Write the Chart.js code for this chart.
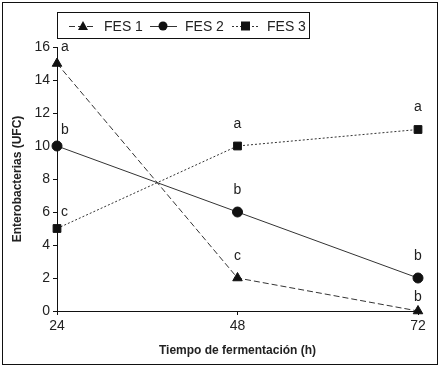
<!DOCTYPE html>
<html lang="es">
<head>
  <meta charset="UTF-8">
  <title>Enterobacterias</title>
  <style>
    body { margin: 0; background: #fff; }
    #wrap { width: 440px; height: 367px; position: relative; }
  </style>
</head>
<body>
  <div id="wrap">
    <canvas id="grafico" width="440" height="367"></canvas>
  </div>

  <script src="https://cdn.jsdelivr.net/npm/chart.js"></script>
  <script>
    // Datos
    const tiempos = [24, 48, 72];
    const series = ['FES 1', 'FES 2', 'FES 3'];
    const fes1 = [15, 2, 0];
    const fes2 = [10, 6, 2];
    const fes3 = [5, 10, 11];
    const letras1 = ['a', 'c', 'b'];
    const letras2 = ['b', 'b', 'b'];
    const letras3 = ['c', 'a', 'a'];

    const fuente = "'Liberation Sans Narrow', 'Liberation Sans', Arial, sans-serif";
    const tinta = '#222';

    const estilos = [
      { dash: [6, 3], punto: 'triangle', radio: 5.5, letras: letras1 },
      { dash: [], punto: 'circle', radio: 5, letras: letras2 },
      { dash: [2, 2], punto: 'rect', radio: 5.5, letras: letras3 }
    ];
    const valores = [fes1, fes2, fes3];

    const datasets = valores.map((vals, i) => ({
      label: series[i],
      data: vals.map((v, j) => ({ x: tiempos[j], y: v })),
      borderColor: '#333',
      borderWidth: 1,
      borderDash: estilos[i].dash,
      pointStyle: estilos[i].punto,
      pointRadius: estilos[i].radio,
      pointBackgroundColor: '#111',
      pointBorderColor: '#111',
      pointBorderWidth: 1,
      tension: 0,
      clip: false
    }));

    // Marco, leyenda y letras de significancia
    const extras = {
      id: 'extras',
      afterDraw(chart) {
        const ctx = chart.ctx;
        const xs = chart.scales.x, ys = chart.scales.y;
        ctx.save();

        // marco exterior
        ctx.strokeStyle = '#111';
        ctx.lineWidth = 1;
        ctx.strokeRect(2.5, 2.5, 435, 362);

        // leyenda
        ctx.strokeRect(57.5, 12.5, 252, 26);
        const posX = [69, 150, 232];
        ctx.font = '14px ' + fuente;
        ctx.textBaseline = 'middle';
        ctx.textAlign = 'left';
        series.forEach((nombre, i) => {
          const x0 = posX[i], y0 = 26;
          ctx.strokeStyle = '#333';
          ctx.setLineDash(estilos[i].dash);
          ctx.beginPath();
          ctx.moveTo(x0, y0 + 0.5);
          ctx.lineTo(x0 + 27, y0 + 0.5);
          ctx.stroke();
          ctx.setLineDash([]);
          ctx.fillStyle = '#111';
          const cx = x0 + 14;
          if (estilos[i].punto === 'triangle') {
            ctx.beginPath();
            ctx.moveTo(cx, y0 - 5);
            ctx.lineTo(cx + 5, y0 + 4);
            ctx.lineTo(cx - 5, y0 + 4);
            ctx.closePath();
            ctx.fill();
          } else if (estilos[i].punto === 'circle') {
            ctx.beginPath();
            ctx.arc(cx - 1, y0, 4.5, 0, Math.PI * 2);
            ctx.fill();
          } else {
            ctx.fillRect(cx - 5, y0 - 4.5, 9, 9);
          }
          ctx.fillStyle = tinta;
          ctx.fillText(nombre, x0 + 35, y0 + 1);
        });

        // letras
        ctx.font = '14px ' + fuente;
        valores.forEach((vals, i) => {
          vals.forEach((v, j) => {
            const px = xs.getPixelForValue(tiempos[j]);
            const py = ys.getPixelForValue(v);
            ctx.fillStyle = tinta;
            if (j === 0) {
              ctx.textAlign = 'left';
              ctx.fillText(estilos[i].letras[j], px + 4, py - 16);
            } else {
              ctx.textAlign = 'center';
              ctx.fillText(estilos[i].letras[j], px, py - (v === 0 ? 14 : 22));
            }
          });
        });
        ctx.restore();
      }
    };

    new Chart(document.getElementById('grafico'), {
      type: 'line',
      data: { datasets },
      options: {
        responsive: false,
        animation: false,
        layout: { padding: { top: 47, right: 22, left: 0, bottom: 0 } },
        plugins: { legend: { display: false }, tooltip: { enabled: false } },
        scales: {
          x: {
            type: 'linear',
            min: 24, max: 72,
            afterBuildTicks: (s) => { s.ticks = tiempos.map(v => ({ value: v })); },
            afterFit: (s) => { s.height = 56; },
            grid: { drawOnChartArea: false, drawTicks: true, tickLength: 4, color: '#111' },
            border: { color: '#111', width: 1 },
            ticks: { color: tinta, font: { family: fuente, size: 14 }, padding: 3, maxRotation: 0 },
            title: {
              display: true, text: 'Tiempo de fermentación (h)', color: tinta,
              font: { family: fuente, size: 12, weight: 'bold' }, padding: { top: 2, bottom: 9 }
            }
          },
          y: {
            min: 0, max: 16,
            afterFit: (s) => { s.width = 57; },
            grid: { drawOnChartArea: false, drawTicks: true, tickLength: 4, color: '#111' },
            border: { color: '#111', width: 1 },
            ticks: { stepSize: 2, color: tinta, font: { family: fuente, size: 14 }, padding: 3 },
            title: {
              display: true, text: 'Enterobacterias (UFC)', color: tinta,
              font: { family: fuente, size: 12, weight: 'bold' }, padding: { top: 10, bottom: 2 }
            }
          }
        }
      },
      plugins: [extras]
    });
  </script>
</body>
</html>
